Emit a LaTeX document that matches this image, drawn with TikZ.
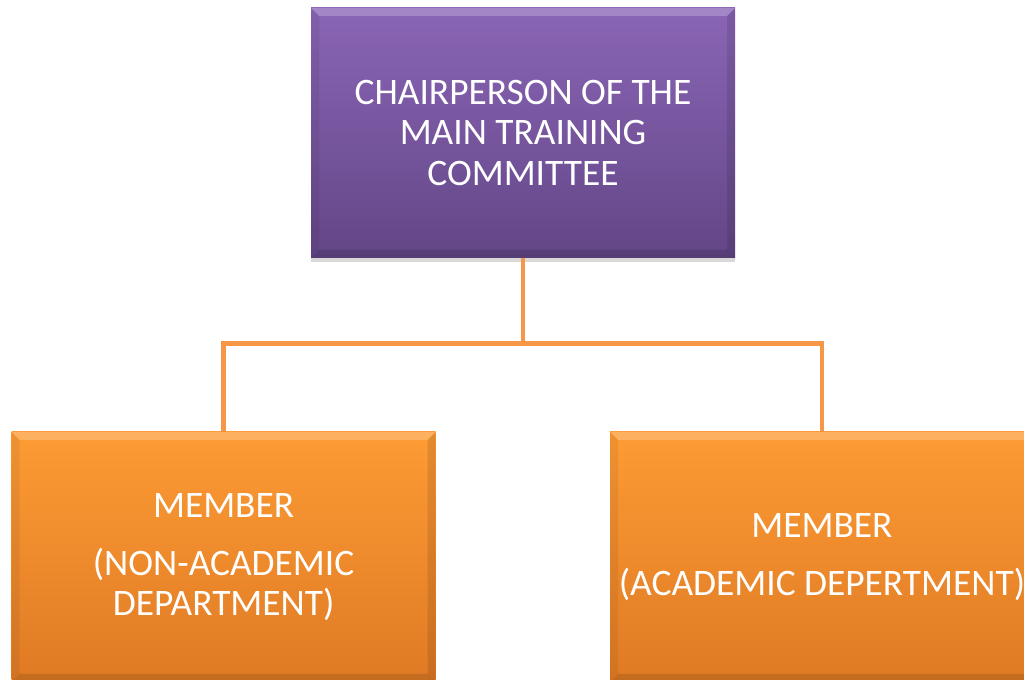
\documentclass[tikz,border=0pt]{standalone}
\usepackage{fontspec}
\setmainfont{Carlito}
\usetikzlibrary{positioning,shadows}

\definecolor{chairtop}{HTML}{8A65B6}
\definecolor{chairbot}{HTML}{634686}
\definecolor{membtop}{HTML}{FD9B34}
\definecolor{membbot}{HTML}{DF7A24}
\definecolor{linkcol}{HTML}{F79646}

\tikzset{
  bevel/.style={path picture={
      \fill[white, opacity=0.22] (path picture bounding box.north west)
        -- (path picture bounding box.north east)
        -- ([shift={(-0.2,-0.2)}]path picture bounding box.north east)
        -- ([shift={(0.2,-0.2)}]path picture bounding box.north west) -- cycle;
      \fill[black, opacity=0.12] (path picture bounding box.south west)
        -- (path picture bounding box.south east)
        -- ([shift={(-0.2,0.2)}]path picture bounding box.south east)
        -- ([shift={(0.2,0.2)}]path picture bounding box.south west) -- cycle;
      \fill[black, opacity=0.06] (path picture bounding box.north west)
        -- ([shift={(0.2,-0.2)}]path picture bounding box.north west)
        -- ([shift={(0.2,0.2)}]path picture bounding box.south west)
        -- (path picture bounding box.south west) -- cycle;
      \fill[black, opacity=0.10] (path picture bounding box.north east)
        -- ([shift={(-0.2,-0.2)}]path picture bounding box.north east)
        -- ([shift={(-0.2,0.2)}]path picture bounding box.south east)
        -- (path picture bounding box.south east) -- cycle;
    }},
  box/.style={bevel, minimum width=10.6cm, minimum height=6.25cm,
    align=center, text=white, inner sep=0pt,
    font=\fontsize{26.6}{28.5}\selectfont,
    drop shadow={shadow xshift=0pt, shadow yshift=-3pt, opacity=0.3}},
  chair/.style={box, top color=chairtop, bottom color=chairbot},
  member/.style={box, top color=membtop, bottom color=membbot},
  link/.style={draw=linkcol, line width=3.5pt, line join=miter},
}

\begin{document}
\begin{tikzpicture}
  \useasboundingbox (0,0) rectangle (25.6,17);
  \clip (0,0) rectangle (25.6,17);

  % head of the committee
  \node[chair] (chairperson) at (13.075,13.675)
    {CHAIRPERSON OF THE\\ MAIN TRAINING\\ COMMITTEE};

  % members
  \node[member] (nonacad) at (5.59,3.075)
    {MEMBER\\[0.45cm] (NON-ACADEMIC\\ DEPARTMENT)};
  \node[member] (acad) at (20.55,3.075)
    {MEMBER\\[0.45cm] (ACADEMIC DEPERTMENT)};

  % connectors
  \draw[link] (chairperson.south) -- ++(0,-2.125) coordinate (fork);
  \draw[link] (fork) -| (nonacad.north);
  \draw[link] (fork) -| (acad.north);
\end{tikzpicture}
\end{document}
